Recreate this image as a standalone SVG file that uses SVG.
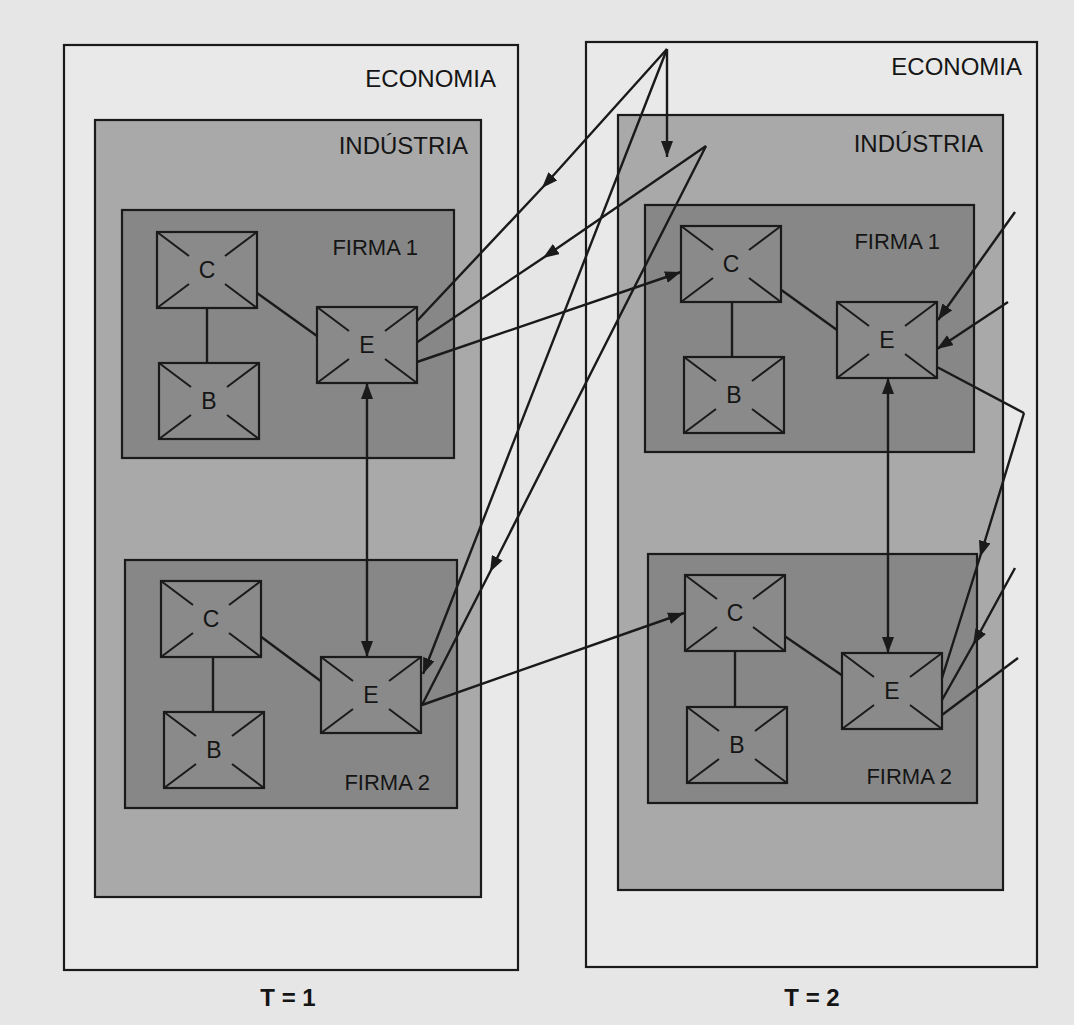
<svg xmlns="http://www.w3.org/2000/svg" xmlns:xlink="http://www.w3.org/1999/xlink" width="1074" height="1025" viewBox="0 0 1074 1025">
<defs>
<style>
.econ{fill:#e9e9e9;stroke:#1a1a1a;stroke-width:2.2}
.ind{fill:#a9a9a9;stroke:#1a1a1a;stroke-width:2.2}
.firm{fill:#878787;stroke:#1a1a1a;stroke-width:2.2}
.lbl{font-family:"Liberation Sans",Arial,sans-serif;font-size:24px;fill:#151515;text-anchor:end}
.flbl{font-family:"Liberation Sans",Arial,sans-serif;font-size:22px;fill:#151515;text-anchor:end}
.let{font-family:"Liberation Sans",Arial,sans-serif;font-size:23px;fill:#151515;text-anchor:middle}
.tl{font-family:"Liberation Sans",Arial,sans-serif;font-size:24px;font-weight:bold;fill:#151515;text-anchor:middle}
.con{fill:none;stroke:#1a1a1a;stroke-width:2.4}
</style>
<symbol id="xb" overflow="visible">
<rect x="0" y="0" width="100" height="76" fill="#8a8a8a" stroke="#1a1a1a" stroke-width="2.2"/>
<path d="M0,0 L32,24 M100,0 L68,24 M0,76 L32,52 M100,76 L68,52" stroke="#1a1a1a" stroke-width="2" fill="none"/>
</symbol>
<marker id="ah" viewBox="0 0 16 12" refX="16" refY="6" markerWidth="16" markerHeight="12" markerUnits="userSpaceOnUse" orient="auto-start-reverse">
<path d="M0,0 L16,6 L0,12 z" fill="#1a1a1a"/>
</marker>
</defs>
<rect x="0" y="0" width="1074" height="1025" fill="#e6e6e6"/>

<g id="economia1"><rect class="econ" x="64" y="45" width="454" height="925"/><text class="lbl" x="496" y="87">ECONOMIA</text></g>
<g id="industria1"><rect class="ind" x="95" y="120" width="386" height="777"/><text class="lbl" x="468" y="154">INDÚSTRIA</text></g>
<g id="firma1a"><rect class="firm" x="122" y="210" width="332" height="248"/><text class="flbl" x="418" y="255">FIRMA 1</text></g>
<g id="firma2a"><rect class="firm" x="125" y="560" width="332" height="248"/><text class="flbl" x="430" y="790">FIRMA 2</text></g>

<g id="economia2"><rect class="econ" x="586" y="42" width="451" height="925"/><text class="lbl" x="1022" y="75">ECONOMIA</text></g>
<g id="industria2"><rect class="ind" x="618" y="115" width="385" height="775"/><text class="lbl" x="983" y="152">INDÚSTRIA</text></g>
<g id="firma1b"><rect class="firm" x="645" y="205" width="329" height="247"/><text class="flbl" x="940" y="249">FIRMA 1</text></g>
<g id="firma2b"><rect class="firm" x="648" y="554" width="329" height="249"/><text class="flbl" x="952" y="784">FIRMA 2</text></g>

<g id="connectors">
<path class="con" d="M207,307 L207,363"/>
<path class="con" d="M257,293 L317,336"/>
<path class="con" d="M213,657 L213,712"/>
<path class="con" d="M260,636 L322,682"/>
<path class="con" d="M732,302 L732,357"/>
<path class="con" d="M780,289 L837,330"/>
<path class="con" d="M735,651 L735,707"/>
<path class="con" d="M783,635 L843,676"/>
<path class="con" d="M367,383 L367,657" marker-start="url(#ah)" marker-end="url(#ah)"/>
<path class="con" d="M888,378 L888,653" marker-start="url(#ah)" marker-end="url(#ah)"/>
<path class="con" d="M667,49 L542,188 L416,322" marker-mid="url(#ah)"/>
<path class="con" d="M667,49 L667,157" marker-end="url(#ah)"/>
<path class="con" d="M667,49 L423,674" marker-end="url(#ah)"/>
<path class="con" d="M706,146 L543,258 L416,343" marker-mid="url(#ah)"/>
<path class="con" d="M706,146 L490,572 L422,705" marker-mid="url(#ah)"/>
<path class="con" d="M417,362 L681,272" marker-end="url(#ah)"/>
<path class="con" d="M422,705 L684,613" marker-end="url(#ah)"/>
<path class="con" d="M1015,212 L938,320" marker-end="url(#ah)"/>
<path class="con" d="M1008,302 L937,349" marker-end="url(#ah)"/>
<path class="con" d="M937,367 L1024,413"/>
<path class="con" d="M1024,413 L980,557 L942,678" marker-mid="url(#ah)"/>
<path class="con" d="M1015,568 L973,645 L942,700" marker-mid="url(#ah)"/>
<path class="con" d="M1018,658 L942,715"/>
</g>

<g id="c1a"><use xlink:href="#xb" x="157" y="232"/><text class="let" x="207" y="278">C</text></g>
<g id="b1a"><use xlink:href="#xb" x="159" y="363"/><text class="let" x="209" y="409">B</text></g>
<g id="e1a"><use xlink:href="#xb" x="317" y="307"/><text class="let" x="367" y="353">E</text></g>
<g id="c2a"><use xlink:href="#xb" x="161" y="581"/><text class="let" x="211" y="627">C</text></g>
<g id="b2a"><use xlink:href="#xb" x="164" y="712"/><text class="let" x="214" y="758">B</text></g>
<g id="e2a"><use xlink:href="#xb" x="321" y="657"/><text class="let" x="371" y="703">E</text></g>
<g id="c1b"><use xlink:href="#xb" x="681" y="226"/><text class="let" x="731" y="272">C</text></g>
<g id="b1b"><use xlink:href="#xb" x="684" y="357"/><text class="let" x="734" y="403">B</text></g>
<g id="e1b"><use xlink:href="#xb" x="837" y="302"/><text class="let" x="887" y="348">E</text></g>
<g id="c2b"><use xlink:href="#xb" x="685" y="575"/><text class="let" x="735" y="621">C</text></g>
<g id="b2b"><use xlink:href="#xb" x="687" y="707"/><text class="let" x="737" y="753">B</text></g>
<g id="e2b"><use xlink:href="#xb" x="842" y="653"/><text class="let" x="892" y="699">E</text></g>

<g id="labels">
<text class="tl" x="288" y="1006">T = 1</text>
<text class="tl" x="812" y="1006">T = 2</text>
</g>
</svg>
